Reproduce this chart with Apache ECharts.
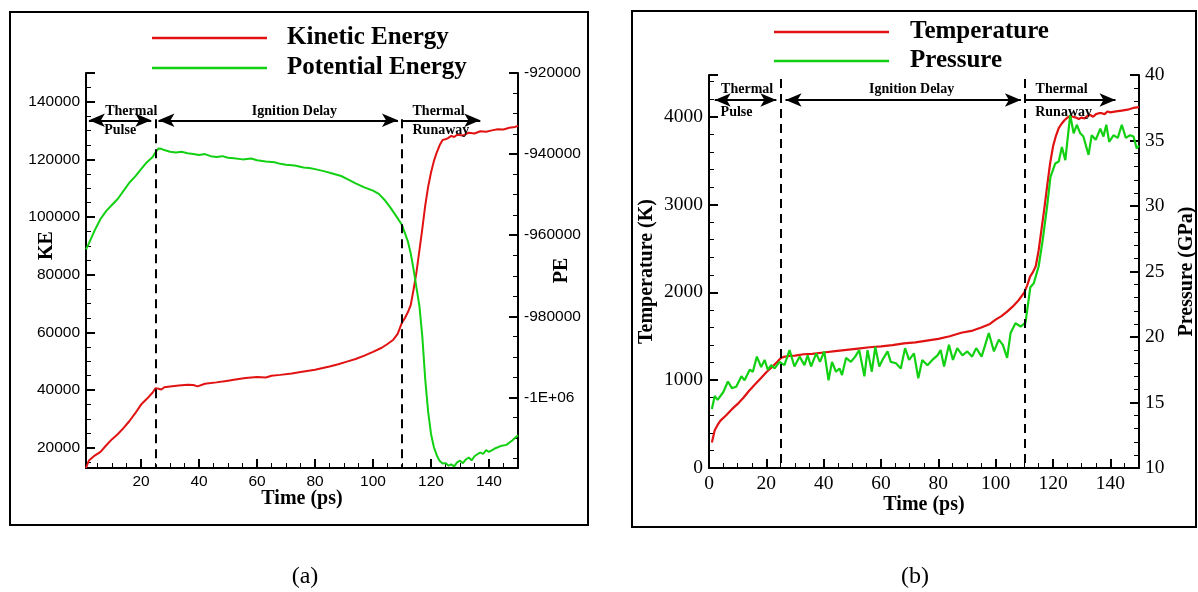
<!DOCTYPE html>
<html lang="en">
<head>
    <meta charset="UTF-8">
    <title>Energy / Temperature / Pressure</title>
    <script src="https://cdn.jsdelivr.net/npm/echarts@6.0.0/dist/echarts.min.js"></script>
    <style>
        body, html {
            margin: 0;
            padding: 0;
            width: 100%;
            height: 100%;
            overflow: hidden;
            background-color: #fff;
        }
        #container {
            width: 1198px;
            height: 592px;
        }
    </style>
</head>
<body>
    <div id="container"></div>
    <script>
        // (a) kinetic / potential energy
        var keTime = [1, 2, 4, 6, 8, 10, 12, 14, 16, 18, 20, 22, 24, 25, 26, 27, 28, 30, 33, 36, 38, 39.5, 42, 46, 50, 52, 56, 60, 63, 65, 68, 72, 75, 80, 85, 88, 91, 94, 97, 100, 103, 105, 107, 108.5, 110, 111, 112, 113, 114, 115, 116, 117, 118, 119, 120, 121, 122, 123, 124, 125, 126, 127, 128, 129, 131, 133, 135, 137, 139, 141, 143, 145, 147, 149, 150];
        var keValue = [13000, 15600, 17300, 18600, 20900, 23000, 24800, 26900, 29300, 32000, 35000, 37000, 39200, 40700, 40500, 40200, 41000, 41300, 41600, 41900, 41800, 41300, 42200, 42700, 43300, 43600, 44200, 44600, 44400, 45000, 45300, 45800, 46300, 47100, 48200, 49000, 49900, 50800, 52000, 53300, 54700, 56000, 57500, 59500, 63500, 65000, 67000, 69500, 75000, 81000, 88500, 96000, 104000, 110500, 115500, 119500, 122500, 125000, 126800, 127000, 127500, 128200, 127800, 128600, 128300, 129300, 129000, 129800, 129600, 130100, 130500, 130400, 131000, 131300, 131700];

        var peTime = [1, 2, 4, 6, 8, 10, 12, 14, 16, 18, 20, 22, 24, 25, 26, 27, 28, 30, 32, 34, 36, 38, 40, 42, 44, 46, 48, 50, 52, 55, 58, 60, 63, 66, 68, 70, 73, 76, 78, 80, 83, 86, 89, 91, 94, 97, 100, 102, 104, 106, 108, 110, 111, 112, 113, 114, 115, 116, 117, 118, 119, 120, 121, 122, 123, 124, 125, 126, 127, 128, 129, 130, 131, 132, 133, 134, 135, 136, 137, 138, 139, 140, 142, 144, 146, 148, 150];
        var peValue = [-963500, -962000, -958800, -956000, -954000, -952500, -951000, -949000, -947000, -945500, -943700, -942000, -940700, -939500, -938600, -938700, -939000, -939400, -939600, -939400, -939800, -940000, -940200, -940000, -940500, -940700, -940500, -940900, -941000, -941300, -941100, -941500, -941800, -942000, -942400, -942600, -942800, -943300, -943400, -943700, -944200, -944800, -945400, -946100, -947200, -948200, -949000, -949800, -951300, -953200, -955300, -957500, -959500, -961500, -964500, -968500, -973000, -977500, -985000, -995500, -1003500, -1009000, -1012300, -1014300, -1015700, -1016300, -1016200, -1016800, -1016500, -1017000, -1016000, -1015600, -1016200, -1015300, -1014800, -1015500, -1014500, -1014000, -1013600, -1013900, -1013000, -1013400, -1012600, -1012000, -1011700, -1010600, -1009300];

        // (b) temperature / pressure
        var tTime = [1, 2, 3, 4, 6, 8, 10, 12, 14, 16, 18, 20, 22, 24, 25, 26, 28, 30, 33, 36, 40, 44, 48, 52, 56, 60, 64, 68, 72, 76, 80, 84, 88, 92, 95, 98, 100, 102, 104, 106, 108, 110, 111, 112, 113, 114, 115, 116, 117, 118, 119, 120, 121, 122, 123, 124, 125, 126, 127, 128, 129, 130, 131, 132, 133, 134, 135, 136, 137, 138, 139, 140, 142, 144, 146, 148, 150];
        var tValue = [290, 430, 490, 540, 600, 670, 730, 800, 880, 950, 1020, 1090, 1150, 1215, 1250, 1265, 1275, 1280, 1295, 1300, 1315, 1330, 1345, 1360, 1375, 1385, 1400, 1420, 1430, 1450, 1470, 1500, 1540, 1565, 1600, 1640, 1690, 1730, 1780, 1840, 1910, 2000, 2080, 2180, 2230, 2300, 2480, 2720, 2960, 3220, 3470, 3660, 3780, 3870, 3920, 3960, 3990, 4010, 4000, 3990, 3975, 3990, 3980, 4010, 4020, 4000, 4030, 4040, 4040, 4030, 4060, 4050, 4060, 4070, 4080, 4100, 4110];

        var pTime = [1, 2, 3, 5, 6.6, 8, 9.5, 11.3, 12.4, 14.2, 15.3, 16.7, 18.2, 19.4, 20.5, 21.7, 22.9, 24.6, 26.3, 28.1, 29.8, 31.6, 33.3, 34.4, 35.6, 37.4, 38.7, 40.2, 41.7, 42.9, 44.3, 45.5, 46.4, 47.8, 49.5, 51, 52.4, 54.2, 55.3, 56.8, 58, 59.4, 60.5, 62.3, 63.4, 65.2, 66.9, 68.4, 69.8, 71.5, 73, 74.4, 76.2, 77.9, 79.7, 80.8, 82, 83.7, 85.1, 86.6, 88.4, 90.1, 91.8, 93.2, 95.1, 97.6, 99.4, 101.1, 102.5, 104, 105.2, 106.9, 108.7, 110.4, 112.1, 113.3, 115, 116.4, 117.9, 119.1, 120.8, 122, 123.1, 124.3, 126, 127.2, 128.3, 129.5, 130.6, 132.4, 133.5, 134.9, 136.5, 137.6, 138.6, 139.6, 141.1, 142.6, 144, 145.4, 146.9, 148.1, 149.2, 150];
        var pValue = [14.5, 15.5, 15.2, 15.8, 16.6, 16.1, 16.2, 17.0, 16.7, 17.5, 17.35, 18.5, 17.7, 18.25, 17.5, 17.85, 17.6, 18.1, 17.85, 19.0, 17.75, 18.5, 17.85, 18.6, 17.75, 18.75, 18.1, 18.9, 16.7, 18.1, 17.35, 17.6, 17.1, 18.4, 18.1, 18.5, 19.0, 17.0, 19.0, 17.35, 19.25, 17.75, 18.25, 18.9, 18.1, 18.0, 17.6, 19.15, 18.25, 18.75, 16.85, 18.25, 17.85, 18.25, 18.6, 19.0, 17.75, 19.4, 18.25, 19.15, 18.6, 18.9, 18.5, 19.15, 18.5, 20.3, 18.9, 19.8, 19.4, 18.4, 20.3, 21.05, 20.8, 21.1, 23.8, 24.1, 25.4, 27.4, 29.9, 32.2, 33.25, 33.4, 34.5, 33.5, 36.95, 35.55, 36.2, 35.55, 35.3, 33.9, 35.4, 35.05, 35.9, 35.3, 36.2, 34.9, 35.4, 35.2, 36.2, 35.2, 35.4, 35.3, 34.4, 34.6];

        // phase boundaries (ps) and annotation texts
        var phaseBounds = [25, 110];
        var phaseNames = ['Thermal', 'Pulse', 'Ignition Delay', 'Thermal', 'Runaway'];
        var phaseNameTimeA = [16.6, 12.8, 72.9, 122.6, 123.4];
        var phaseNameKE = [136800, 130200, 136800, 136800, 130200];
        var arrowSpansA = [[2, 23.5], [26, 108.6], [109.7, 137]];
        var arrowKE = 133600;
        var phaseNameTimeB = [13.3, 9.6, 70.7, 123, 123.7];
        var phaseNameT = [4316, 4045, 4316, 4316, 4045];
        var arrowSpansB = [[2, 23.5], [26.7, 108.8], [110.2, 141.8]];
        var arrowT = 4190;

        function pairs(xs, ys) {
            return xs.map(function (x, i) { return [x, ys[i]]; });
        }

        var black = '#000';
        var serif = 'Liberation Serif';
        var sans = 'Liberation Sans';
        var plain = function (v) { return String(v); };

        function arrowLines(spans, y) {
            return spans.map(function (s, i) {
                var last = i === spans.length - 1;
                return [
                    { coord: [s[0], y], symbol: last ? 'none' : 'arrow' },
                    { coord: [s[1], y], symbol: 'arrow' }
                ];
            });
        }
        function dashLines(yTop, yBottom) {
            return phaseBounds.map(function (b) {
                return [
                    { coord: [b, yTop], symbol: 'none', lineStyle: { type: [9, 6], width: 2, color: black } },
                    { coord: [b, yBottom], symbol: 'none' }
                ];
            });
        }
        function phaseTexts(xs, ys) {
            return phaseNames.map(function (n, i) {
                return { name: n, coord: [xs[i], ys[i]] };
            });
        }

        var markLabel = {
            show: true, position: 'inside', formatter: '{b}', color: black,
            fontFamily: serif, fontWeight: 'bold', fontSize: 14
        };

        function xAxisBase(grid, font, size, gap) {
            return {
                gridIndex: grid,
                type: 'value',
                axisLine: { show: true, onZero: false, lineStyle: { color: black, width: 2 } },
                axisTick: { show: true, inside: true, length: 9, lineStyle: { color: black, width: 2 } },
                minorTick: { show: true, splitNumber: 4, length: 5, lineStyle: { color: black, width: 1 } },
                splitLine: { show: false },
                axisLabel: { color: black, fontFamily: font, fontSize: size, margin: 6, showMaxLabel: false, formatter: plain },
                name: 'Time (ps)',
                nameLocation: 'middle',
                nameGap: gap,
                nameMoveOverlap: false,
                nameTextStyle: { color: black, fontFamily: serif, fontWeight: 'bold', fontSize: 20 }
            };
        }
        function yAxisBase(grid, pos, font, size) {
            return {
                gridIndex: grid,
                type: 'value',
                position: pos,
                axisLine: { show: true, onZero: false, lineStyle: { color: black, width: 2 } },
                axisTick: { show: true, inside: true, length: 9, lineStyle: { color: black, width: 2 } },
                minorTick: { show: true, splitNumber: 4, length: 5, lineStyle: { color: black, width: 1 } },
                splitLine: { show: false },
                axisLabel: { color: black, fontFamily: font, fontSize: size, margin: 6, showMinLabel: false, showMaxLabel: false, formatter: plain },
                nameLocation: 'middle',
                nameMoveOverlap: false,
                nameTextStyle: { color: black, fontFamily: serif, fontWeight: 'bold', fontSize: 20 }
            };
        }

        var xa = xAxisBase(0, sans, 15.5, 21);
        xa.min = 1; xa.max = 150; xa.splitNumber = 7;
        xa.axisLabel.showMinLabel = false;
        var xb = xAxisBase(1, serif, 19.5, 27);
        xb.min = 0; xb.max = 150; xb.interval = 20;

        var yKE = yAxisBase(0, 'left', sans, 15.5);
        yKE.min = 13000; yKE.max = 150000; yKE.splitNumber = 7;
        yKE.name = 'KE'; yKE.nameGap = 29;
        yKE.nameTextStyle.padding = [0, 0, 0, 50];
        var yPE = yAxisBase(0, 'right', sans, 15.5);
        yPE.min = -1017400; yPE.max = -920000; yPE.splitNumber = 5;
        yPE.name = 'PE'; yPE.nameGap = 34;
        yPE.axisLabel.showMaxLabel = true;
        yPE.axisLabel.formatter = function (v) { return v === -1000000 ? '-1E+06' : String(v); };
        var yT = yAxisBase(1, 'left', serif, 19.5);
        yT.min = 0; yT.max = 4475; yT.splitNumber = 5;
        yT.minorTick.splitNumber = 5;
        yT.axisLabel.showMinLabel = true;
        yT.name = 'Temperature (K)'; yT.nameGap = 52;
        var yP = yAxisBase(1, 'right', serif, 19.5);
        yP.min = 10; yP.max = 40; yP.interval = 5;
        yP.minorTick.splitNumber = 5;
        yP.axisLabel.showMinLabel = true;
        yP.axisLabel.showMaxLabel = true;
        yP.name = 'Pressure (GPa)'; yP.nameGap = 38;

        var option = {
            animation: false,
            backgroundColor: '#fff',
            grid: [
                { left: 86, right: 680, top: 73, bottom: 124 },
                { left: 709, right: 57, top: 75, bottom: 124 }
            ],
            legend: [
                {
                    data: ['Kinetic Energy', 'Potential Energy'],
                    orient: 'vertical', left: 147, top: 20,
                    icon: 'rect', itemWidth: 115, itemHeight: 2.5, itemGap: 4,
                    textStyle: { color: black, fontFamily: serif, fontWeight: 'bold', fontSize: 25, lineHeight: 26, padding: [0, 0, 0, 15] }
                },
                {
                    data: ['Temperature', 'Pressure'],
                    orient: 'vertical', left: 769, top: 14,
                    icon: 'rect', itemWidth: 115, itemHeight: 2.5, itemGap: 3,
                    textStyle: { color: black, fontFamily: serif, fontWeight: 'bold', fontSize: 25, lineHeight: 26, padding: [0, 0, 0, 16] }
                }
            ],
            xAxis: [xa, xb],
            yAxis: [yKE, yPE, yT, yP],
            graphic: [
                { type: 'rect', shape: { x: 10, y: 12, width: 578, height: 513 }, style: { fill: 'none', stroke: black, lineWidth: 2 } },
                { type: 'rect', shape: { x: 632, y: 11, width: 564, height: 516 }, style: { fill: 'none', stroke: black, lineWidth: 2 } },
                { type: 'text', x: 305, y: 577, style: { text: '(a)', font: '24px "Liberation Serif"', fill: black, textAlign: 'center', textVerticalAlign: 'middle' } },
                { type: 'text', x: 915, y: 577, style: { text: '(b)', font: '24px "Liberation Serif"', fill: black, textAlign: 'center', textVerticalAlign: 'middle' } }
            ],
            series: [
                {
                    name: 'Kinetic Energy', type: 'line', xAxisIndex: 0, yAxisIndex: 0,
                    data: pairs(keTime, keValue), showSymbol: false, symbol: 'none',
                    color: '#e01212', lineStyle: { width: 2 },
                    markLine: {
                        silent: true, symbolSize: [10, 16], label: { show: false },
                        lineStyle: { color: black, width: 2, type: 'solid' },
                        data: arrowLines(arrowSpansA, arrowKE).concat(dashLines(134000, 13000))
                    },
                    markPoint: {
                        silent: true, symbol: 'rect', symbolSize: 1, itemStyle: { color: 'rgba(0,0,0,0)' },
                        label: markLabel,
                        data: phaseTexts(phaseNameTimeA, phaseNameKE)
                    }
                },
                {
                    name: 'Potential Energy', type: 'line', xAxisIndex: 0, yAxisIndex: 1,
                    data: pairs(peTime, peValue), showSymbol: false, symbol: 'none',
                    color: '#12d012', lineStyle: { width: 2 }
                },
                {
                    name: 'Temperature', type: 'line', xAxisIndex: 1, yAxisIndex: 2,
                    data: pairs(tTime, tValue), showSymbol: false, symbol: 'none',
                    color: '#e01212', lineStyle: { width: 2.2 },
                    markLine: {
                        silent: true, symbolSize: [10, 16], label: { show: false },
                        lineStyle: { color: black, width: 2, type: 'solid' },
                        data: arrowLines(arrowSpansB, arrowT).concat(dashLines(4430, 0))
                    },
                    markPoint: {
                        silent: true, symbol: 'rect', symbolSize: 1, itemStyle: { color: 'rgba(0,0,0,0)' },
                        label: markLabel,
                        data: phaseTexts(phaseNameTimeB, phaseNameT)
                    }
                },
                {
                    name: 'Pressure', type: 'line', xAxisIndex: 1, yAxisIndex: 3,
                    data: pairs(pTime, pValue), showSymbol: false, symbol: 'none',
                    color: '#12d012', lineStyle: { width: 2.2 }
                }
            ]
        };

        var chart = echarts.init(document.getElementById('container'));
        chart.setOption(option);
    </script>
</body>
</html>
